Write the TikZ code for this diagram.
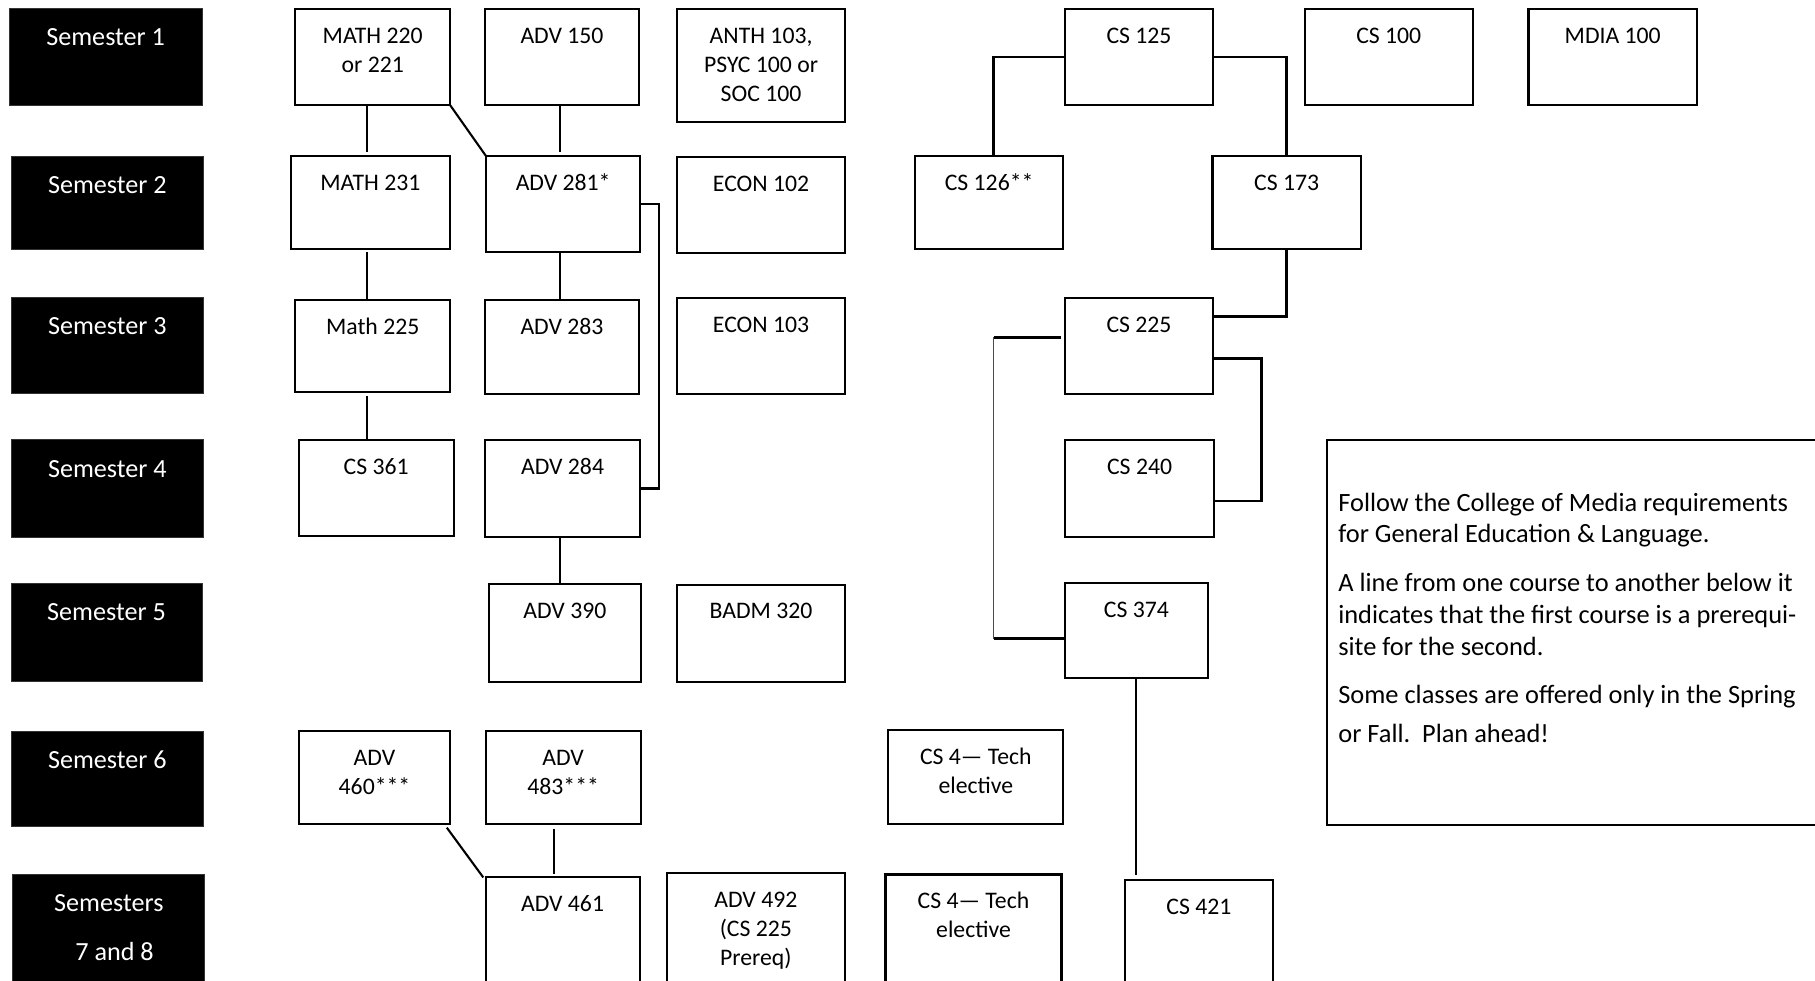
\documentclass[tikz,border=0pt]{standalone}
\usepackage{fontspec}
\setmainfont{Carlito}
\tikzset{
  cbox/.style={draw=black, line width=1.8pt, fill=white, inner sep=0pt, outer sep=0pt, anchor=north west},
  sbox/.style={draw=black!80, line width=0.8pt, fill=black, inner sep=0pt, outer sep=0pt, anchor=north west},
  ctext/.style={inner sep=0pt, align=center, anchor=north, font=\fontsize{20.5}{25}\selectfont},
  stext/.style={inner sep=0pt, align=center, anchor=north, text=white, font=\fontsize{22.6}{27}\selectfont},
  ntext/.style={inner sep=0pt, align=left, anchor=north west, font=\fontsize{22.8}{27.3}\selectfont},
  link/.style={line width=1.8pt},
  link2/.style={line width=2.4pt},
  thinlink/.style={line width=1.1pt, draw=black!70},
}
\newcommand\crs[6]{%
  \node[cbox, minimum width={#4-#2}, minimum height={#5-#3}] (#1) at (#2,#3) {};
  \node[ctext] (#1-t) at ([yshift=-12]#1.north) {\strut #6};}
\newcommand\sem[6]{%
  \node[sbox, minimum width={#4-#2}, minimum height={#5-#3}] (#1) at (#2,#3) {};
  \node[stext] (#1-t) at ([yshift=-13.1]#1.north) {\strut #6};}
\begin{document}
\begin{tikzpicture}[x=1pt, y=-1pt]
\useasboundingbox (0,0) rectangle (1568,847);
\fill[white] (0,0) rectangle (1568,847);

% semester labels
\sem{s1}{8}{7}{174.5}{91.5}{Semester 1}
\sem{s2}{9.5}{135}{176}{215.5}{Semester 2}
\sem{s3}{9.5}{257}{176}{339.5}{Semester 3}
\sem{s4}{9.5}{380}{176}{464}{Semester 4}
\sem{s5}{9.5}{504}{174.5}{589}{Semester 5}
\sem{s6}{9.5}{631.5}{176}{714}{Semester 6}
\sem{s7}{11}{755.5}{177}{870}{Semesters\\[14.8pt]\hspace*{10pt}7 and 8}

% row 1
\crs{m220}{255}{8}{389}{91}{MATH 220\\or 221}
\crs{a150}{419}{8}{552}{91}{ADV 150}
\crs{anth}{585}{8}{730}{105.5}{ANTH 103,\\PSYC 100 or\\SOC 100}
\crs{cs125}{920}{7.5}{1048}{91}{CS 125}
\crs{cs100}{1127}{8}{1272.5}{91}{CS 100}
\crs{mdia}{1320.5}{8}{1466}{91}{MDIA 100}

% row 2
\crs{m231}{251}{135}{389}{215}{MATH 231}
\crs{a281}{420}{135}{553}{218}{ADV 281*}
\crs{econ2}{585}{135.5}{730}{218.5}{ECON 102}
\crs{cs126}{790.5}{135}{918.5}{215}{CS 126**}
\crs{cs173}{1047.5}{135}{1175.5}{215}{CS 173}

% row 3
\crs{m225}{255}{259.5}{389}{339}{Math 225}
\crs{a283}{419}{259}{552}{340}{ADV 283}
\crs{econ3}{585}{257.5}{730}{340.5}{ECON 103}
\crs{cs225}{920}{257.5}{1048}{340.5}{CS 225}

% row 4
\crs{cs361}{258}{380}{392}{463}{CS 361}
\crs{a284}{419}{380}{553}{464}{ADV 284}
\crs{cs240}{920}{380}{1049}{464}{CS 240}

% row 5
\crs{a390}{422.5}{504.5}{553.5}{589}{ADV 390}
\crs{badm}{585}{505}{730}{589}{BADM 320}
\crs{cs374}{920}{504}{1043.5}{586}{CS 374}

% row 6
\crs{a460}{258}{631.5}{389}{712}{ADV\\460***}
\crs{a483}{419.5}{631.5}{553.5}{712}{ADV\\483***}
\crs{tech1}{767.5}{630.5}{918.5}{712}{CS 4— Tech\\elective}

% row 7
\crs{a461}{419.5}{758}{552.5}{870}{ADV 461}
\crs{a492}{576}{754}{730}{870}{ADV 492\\(CS 225\\Prereq)}
\crs{tech2}{765}{755.5}{917}{870}{CS 4— Tech\\elective}
\crs{cs421}{971.5}{760.5}{1100}{870}{CS 421}

% note
\node[cbox, minimum width=440, minimum height={713-380.5}] (note) at (1146.5,380.5) {};
\node[ntext] (note-t) at (1156,422.2) {\strut Follow the College of Media requirements\\
for General Education \& Language.\\[15.2pt]
A line from one course to another below it\\
indicates that the first course is a prerequi-\\
site for the second.\\[14.9pt]
Some classes are offered only in the Spring\\[6.1pt]
or Fall.\ \ Plan ahead!};

% connectors: math / adv
\draw[link, shorten >=4] ([xshift=-5]m220.south) -- ([xshift=-5]m220.south |- m231.north);
\draw[link] (m220.south east) -- (a281.north west);
\draw[link, shorten >=4] ([xshift=-1.5]a150.south) -- ([xshift=-1.5]a150.south |- a281.north);
\draw[link] (a281.east) -- ++(16,0) |- (a284.east);
\draw[link, shorten <=3] ([xshift=-3]m231.south) -- ([xshift=-3]m231.south |- m225.north);
\draw[link] ([xshift=-2.5]a281.south) -- ([xshift=-2.5]a281.south |- a283.north);
\draw[link, shorten <=3] ([xshift=-5]m225.south) -- ([xshift=-5]m225.south |- cs361.north);
\draw[link] ([xshift=-2.5]a284.south) -- ([xshift=-2.5]a284.south |- a390.north);
\draw[link] ([xshift=-3,yshift=-3]a460.south east) -- ([xshift=-2]a461.north west);
\draw[link, shorten <=4, shorten >=3] ([xshift=-8]a483.south) -- ([xshift=-8]a483.south |- a461.north);

% connectors: cs
\draw[link2] (cs125.west) -| ([xshift=4]cs126.north);
\draw[link2] (cs125.east) -| (cs173.north);
\draw[link2] (cs173.south) |- ([yshift=-16]cs225.north east);
\draw[link2] ([yshift=-10.6]cs225.east) -- ++(42,0) |- ([yshift=-10.8]cs240.east);
\coordinate (k1) at ([xshift=-61.5,yshift=7.6]cs225.west);
\coordinate (k3) at ([yshift=-6.7]cs374.west);
\coordinate (k2) at (k1 |- k3);
\draw[link2, shorten <=3] ([yshift=7.6]cs225.west) -- (k1);
\draw[thinlink] (k1) -- (k2);
\draw[link2] (k2) -- (k3);
\draw[link, shorten >=5] (cs374.south) -- (cs374.south |- cs421.north);
\end{tikzpicture}
\end{document}
